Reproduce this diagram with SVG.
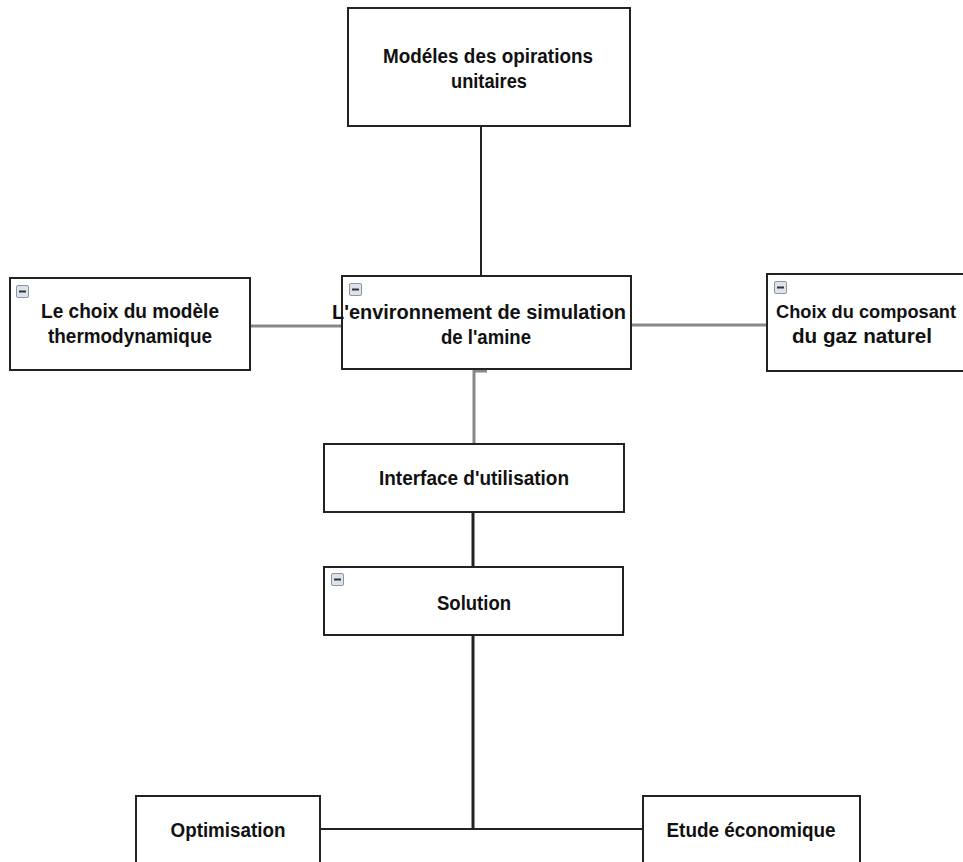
<svg xmlns="http://www.w3.org/2000/svg" width="963" height="862" viewBox="0 0 963 862">
<defs>
<style>
.box{fill:#fff;stroke:#222;stroke-width:2}
.t{font-family:"Liberation Sans",Arial,sans-serif;font-weight:bold;font-size:20px;fill:#111;text-anchor:middle}
.g{stroke:#888;stroke-width:3;fill:none}
.d{stroke:#222;stroke-width:2;fill:none}
.dk{stroke:#222;stroke-width:3;fill:none}
</style>
<g id="icon">
<rect x="0.5" y="0.5" width="12" height="12" rx="1.5" fill="#dde3ea" stroke="#8a96a3"/>
<line x1="3" y1="6.5" x2="10" y2="6.5" stroke="#333" stroke-width="2"/>
</g>
</defs>
<rect width="963" height="862" fill="#fff"/>
<g id="connectors">
<line class="d" x1="481" y1="126" x2="481" y2="277"/>
<line class="g" x1="250" y1="326" x2="342" y2="326"/>
<line class="g" x1="631" y1="325" x2="767" y2="325"/>
<path class="g" d="M487,371 H474 V444"/>
<line class="dk" x1="473" y1="508" x2="473" y2="567"/>
<line class="dk" x1="473" y1="635" x2="473" y2="829"/>
<line class="d" x1="320" y1="829" x2="643" y2="829"/>
</g>
<g id="n-modeles">
<rect class="box" x="348" y="8" width="282" height="118"/>
<text class="t" x="488" y="63" textLength="210" lengthAdjust="spacingAndGlyphs">Modéles des opirations</text>
<text class="t" x="489" y="88" textLength="76" lengthAdjust="spacingAndGlyphs">unitaires</text>
</g>
<g id="n-thermo">
<rect class="box" x="10" y="278" width="240" height="92"/>
<use href="#icon" x="16" y="285"/>
<text class="t" x="130" y="318" textLength="178" lengthAdjust="spacingAndGlyphs">Le choix du modèle</text>
<text class="t" x="130" y="343" textLength="164" lengthAdjust="spacingAndGlyphs">thermodynamique</text>
</g>
<g id="n-env">
<rect class="box" x="342" y="276" width="289" height="93"/>
<use href="#icon" x="349" y="283"/>
<text class="t" x="479" y="319" textLength="294" lengthAdjust="spacingAndGlyphs">L'environnement de simulation</text>
<text class="t" x="486" y="344" textLength="90" lengthAdjust="spacingAndGlyphs">de l'amine</text>
</g>
<g id="n-gaz">
<rect class="box" x="767" y="274" width="210" height="97"/>
<use href="#icon" x="774" y="281"/>
<text class="t" x="866" y="318" style="font-size:18px;font-size:19px" textLength="180" lengthAdjust="spacingAndGlyphs">Choix du composant</text>
<text class="t" x="862" y="343" textLength="140" lengthAdjust="spacingAndGlyphs">du gaz naturel</text>
</g>
<g id="n-interface">
<rect class="box" x="324" y="444" width="300" height="68"/>
<text class="t" x="474" y="485" textLength="190" lengthAdjust="spacingAndGlyphs">Interface d'utilisation</text>
</g>
<g id="n-solution">
<rect class="box" x="324" y="567" width="299" height="68"/>
<use href="#icon" x="331" y="573"/>
<text class="t" x="474" y="610" textLength="74" lengthAdjust="spacingAndGlyphs">Solution</text>
</g>
<g id="n-optim">
<rect class="box" x="136" y="796" width="184" height="80"/>
<text class="t" x="228" y="837" textLength="115" lengthAdjust="spacingAndGlyphs">Optimisation</text>
</g>
<g id="n-etude">
<rect class="box" x="643" y="796" width="217" height="80"/>
<text class="t" x="751" y="837" textLength="169" lengthAdjust="spacingAndGlyphs">Etude économique</text>
</g>
</svg>
